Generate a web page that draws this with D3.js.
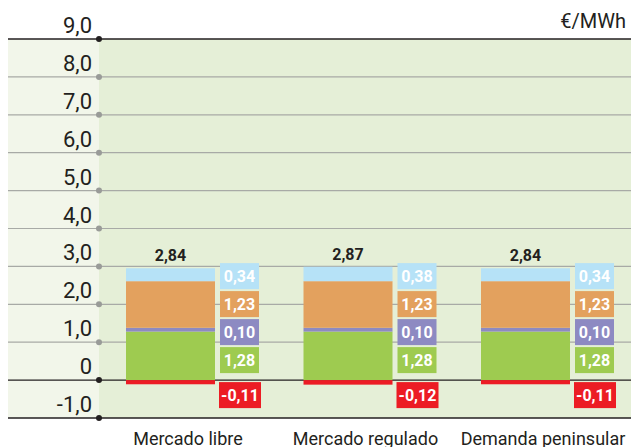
<!DOCTYPE html>
<html>
<head>
<meta charset="utf-8">
<script src="https://cdn.jsdelivr.net/npm/d3@7"></script>
<style>
  body { margin: 0; background: #fff; }
  svg { display: block; font-family: Roboto, "Noto Sans", sans-serif; }
  .tick-label { font-size: 22px; fill: #231f20; }
  .cat-label { font-size: 18px; fill: #231f20; }
  .unit { font-size: 20px; fill: #231f20; }
  .total { font-size: 16px; font-weight: bold; fill: #231f20; }
  .val { font-size: 16px; font-weight: bold; fill: #fff; }
</style>
</head>
<body>
<svg width="631" height="447"></svg>
<script>
const width = 631;
const height = 447;

const categories = ["Mercado libre", "Mercado regulado", "Demanda peninsular"];

// stacked components, bottom to top
const green = [1.28, 1.28, 1.28];
const purple = [0.10, 0.10, 0.10];
const orange = [1.23, 1.23, 1.23];
const lightBlue = [0.34, 0.38, 0.34];
const negative = [-0.11, -0.12, -0.11];
const totals = [2.84, 2.87, 2.84];

const yTicks = [-1, 0, 1, 2, 3, 4, 5, 6, 7, 8, 9];

const seriesNames = ["green", "purple", "orange", "lightBlue"];
const seriesValues = [green, purple, orange, lightBlue];
const colors = {
    green: "#9ecb50",
    purple: "#8d8ac2",
    orange: "#e3a15e",
    lightBlue: "#b6e2f7",
    negative: "#ec1c24"
};

const fmt = v => d3.format(".2f")(v).replace(".", ",").replace("−", "-");
const fmtTick = v => d3.format(".1f")(v).replace(".", ",").replace("−", "-");

const svg = d3.select("svg");

// y scale
const yScale = d3.scaleLinear()
    .domain([-1, 9])
    .range([418, 39]);

// x scale (one band per group: bar + label column)
const xScale = d3.scaleBand()
    .domain(categories)
    .range([100, 632.5]);

const plotLeft = 8;
const axisX = 99;

// background bands
svg.append("rect")
    .attr("x", plotLeft)
    .attr("y", yScale(9))
    .attr("width", axisX - plotLeft)
    .attr("height", yScale(-1) - yScale(9))
    .attr("fill", "#f2f6ea");

svg.append("rect")
    .attr("x", axisX)
    .attr("y", yScale(9))
    .attr("width", width - axisX)
    .attr("height", yScale(-1) - yScale(9))
    .attr("fill", "#e5efd7");

// gridlines
const dark = d => d === 9 || d === 0 || d === -1;

svg.selectAll(".grid")
    .data(yTicks)
    .join("line")
    .attr("class", "grid")
    .attr("x1", plotLeft)
    .attr("x2", width)
    .attr("y1", d => yScale(d))
    .attr("y2", d => yScale(d))
    .attr("stroke", d => dark(d) ? "#231f20" : "#a8aaa6")
    .attr("stroke-width", d => dark(d) ? 1.3 : 1.2);

// tick dots
svg.selectAll(".dot")
    .data(yTicks)
    .join("circle")
    .attr("class", "dot")
    .attr("cx", axisX)
    .attr("cy", d => yScale(d))
    .attr("r", 3)
    .attr("fill", d => dark(d) ? "#231f20" : "#999b98");

// tick labels
svg.selectAll(".tick-label")
    .data(yTicks)
    .join("text")
    .attr("class", "tick-label")
    .attr("x", 92)
    .attr("y", d => yScale(d) - 6)
    .attr("text-anchor", "end")
    .text(d => d === 0 ? "0" : fmtTick(d));

// unit
svg.append("text")
    .attr("class", "unit")
    .attr("x", 626)
    .attr("y", 28)
    .attr("text-anchor", "end")
    .text("€/MWh");

const barOffset = 26;
const barWidth = 89;
const boxOffset = 120;
const boxWidth = 39;

// stacked bars
categories.forEach((c, i) => {
    let base = 0;
    seriesValues.forEach((vals, s) => {
        const v = vals[i];
        svg.append("rect")
            .attr("x", xScale(c) + barOffset)
            .attr("y", yScale(base + v))
            .attr("width", barWidth)
            .attr("height", yScale(base) - yScale(base + v))
            .attr("fill", colors[seriesNames[s]]);
        base += v;
    });

    // negative part
    svg.append("rect")
        .attr("x", xScale(c) + barOffset)
        .attr("y", yScale(0))
        .attr("width", barWidth)
        .attr("height", yScale(negative[i]) - yScale(0))
        .attr("fill", colors.negative);

    // total label
    svg.append("text")
        .attr("class", "total")
        .attr("x", xScale(c) + barOffset + barWidth / 2)
        .attr("y", yScale(base) - 7)
        .attr("text-anchor", "middle")
        .text(fmt(totals[i]));

    // value boxes, stacked from the zero line upward
    const boxH = 26;
    const gap = 2;
    seriesValues.forEach((vals, s) => {
        const top = yScale(0) - 7 - boxH - s * (boxH + gap);
        svg.append("rect")
            .attr("x", xScale(c) + boxOffset)
            .attr("y", top)
            .attr("width", boxWidth)
            .attr("height", boxH)
            .attr("fill", colors[seriesNames[s]]);
        svg.append("text")
            .attr("class", "val")
            .attr("x", xScale(c) + boxOffset + boxWidth / 2)
            .attr("y", top + boxH / 2 + 6)
            .attr("text-anchor", "middle")
            .text(fmt(vals[i]));
    });

    const negTop = yScale(0) + 2;
    svg.append("rect")
        .attr("x", xScale(c) + boxOffset - 1)
        .attr("y", negTop)
        .attr("width", boxWidth + 3)
        .attr("height", boxH)
        .attr("fill", colors.negative);
    svg.append("text")
        .attr("class", "val")
        .attr("x", xScale(c) + boxOffset + boxWidth / 2 + 0.5)
        .attr("y", negTop + boxH / 2 + 6)
        .attr("text-anchor", "middle")
        .text(fmt(negative[i]));

    // category label
    svg.append("text")
        .attr("class", "cat-label")
        .attr("x", xScale(c) + 88)
        .attr("y", 445)
        .attr("text-anchor", "middle")
        .text(c);
});
</script>
</body>
</html>
